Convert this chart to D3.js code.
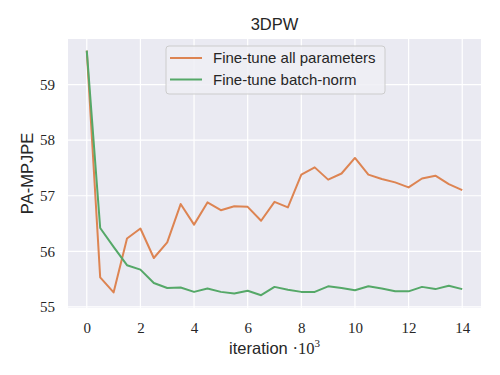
<!DOCTYPE html>
<html>
<head>
<meta charset="utf-8">
<script src="https://cdn.jsdelivr.net/npm/d3@7"></script>
<style>
  body { margin: 0; background: #fff; }
</style>
</head>
<body>
<div id="chart"></div>
<script>
var iterations = [0, 0.5, 1, 1.5, 2, 2.5, 3, 3.5, 4, 4.5, 5, 5.5, 6, 6.5, 7,
                  7.5, 8, 8.5, 9, 9.5, 10, 10.5, 11, 11.5, 12, 12.5, 13, 13.5, 14];
var allParams = [59.61, 55.53, 55.26, 56.23, 56.41, 55.88, 56.16, 56.85, 56.48, 56.88,
                 56.74, 56.81, 56.80, 56.55, 56.89, 56.79, 57.38, 57.51, 57.29, 57.40,
                 57.68, 57.38, 57.30, 57.24, 57.15, 57.31, 57.36, 57.21, 57.10];
var batchNorm = [59.61, 56.42, 56.08, 55.75, 55.67, 55.43, 55.34, 55.35, 55.27, 55.33,
                 55.27, 55.24, 55.29, 55.21, 55.36, 55.31, 55.27, 55.27, 55.37, 55.34,
                 55.30, 55.37, 55.33, 55.28, 55.28, 55.36, 55.32, 55.38, 55.32];
var xTicks = [0, 2, 4, 6, 8, 10, 12, 14];
var yTicks = [55, 56, 57, 58, 59];
var seriesNames = ["Fine-tune all parameters", "Fine-tune batch-norm"];
var colors = ["#dd8452", "#55a868"];

var W = 500, H = 375;
var margin = {top: 39, right: 19, bottom: 67, left: 68};
var width = W - margin.left - margin.right,
    height = H - margin.top - margin.bottom;
var sans = "Liberation Sans, Arial, sans-serif",
    serif = "Liberation Serif, DejaVu Serif, serif";

var svg = d3.select("#chart").append("svg")
    .attr("width", W).attr("height", H);

var g = svg.append("g")
    .attr("transform", "translate(" + margin.left + "," + margin.top + ")");

var x = d3.scaleLinear().domain([-0.7, 14.7]).range([0, width]);
var y = d3.scaleLinear().domain([54.98, 59.82]).range([height, 0]);

g.append("rect").attr("width", width).attr("height", height).attr("fill", "#eaeaf2");

// grid
g.selectAll(".vgrid").data(xTicks).enter().append("line")
    .attr("x1", function(d) { return x(d); }).attr("x2", function(d) { return x(d); })
    .attr("y1", 0).attr("y2", height)
    .attr("stroke", "#fff").attr("stroke-width", 1.2);
g.selectAll(".hgrid").data(yTicks).enter().append("line")
    .attr("y1", function(d) { return y(d); }).attr("y2", function(d) { return y(d); })
    .attr("x1", 0).attr("x2", width)
    .attr("stroke", "#fff").attr("stroke-width", 1.2);

// axes
var xAxis = g.append("g")
    .attr("transform", "translate(0," + height + ")")
    .call(d3.axisBottom(x).tickValues(xTicks).tickFormat(d3.format("d")).tickSize(0).tickPadding(14));
var yAxis = g.append("g")
    .call(d3.axisLeft(y).tickValues(yTicks).tickFormat(d3.format("d")).tickSize(0).tickPadding(13));
[xAxis, yAxis].forEach(function(a) {
    a.attr("font-family", serif).attr("font-size", 15);
    a.select(".domain").remove();
    a.selectAll("text").attr("fill", "#262626");
});

// lines
var line = d3.line()
    .x(function(d) { return x(d[0]); })
    .y(function(d) { return y(d[1]); });

[allParams, batchNorm].forEach(function(vals, i) {
    g.append("path")
        .datum(iterations.map(function(it, j) { return [it, vals[j]]; }))
        .attr("fill", "none")
        .attr("stroke", colors[i])
        .attr("stroke-width", 2)
        .attr("stroke-linejoin", "round")
        .attr("d", line);
});

// legend
var lg = svg.append("g").attr("transform", "translate(166,46)");
lg.append("rect")
    .attr("width", 219).attr("height", 48)
    .attr("rx", 3)
    .attr("fill", "#eeeef4").attr("fill-opacity", 0.85)
    .attr("stroke", "#cccccc").attr("stroke-width", 1);
seriesNames.forEach(function(name, i) {
    var yy = 12 + i * 21.5;
    lg.append("line")
        .attr("x1", 4).attr("x2", 36).attr("y1", yy).attr("y2", yy)
        .attr("stroke", colors[i]).attr("stroke-width", 2);
    lg.append("text")
        .attr("x", 47).attr("y", yy).attr("dy", "0.35em")
        .attr("font-family", sans)
        .attr("font-size", 15).attr("fill", "#262626")
        .text(name);
});

// title and labels
svg.append("text")
    .attr("x", margin.left + width / 2).attr("y", 30)
    .attr("text-anchor", "middle")
    .attr("font-family", sans)
    .attr("font-size", 16.5).attr("fill", "#262626")
    .text("3DPW");

var xl = svg.append("text")
    .attr("x", margin.left + width / 2).attr("y", 354)
    .attr("text-anchor", "middle")
    .attr("font-family", sans)
    .attr("font-size", 16.5).attr("fill", "#262626");
xl.append("tspan").text("iteration ");
xl.append("tspan").attr("font-family", serif).text("\u00b710");
xl.append("tspan").attr("font-family", serif)
    .attr("font-size", 11).attr("dy", -7).text("3");

svg.append("text")
    .attr("transform", "translate(33," + (margin.top + height / 2) + ") rotate(-90)")
    .attr("text-anchor", "middle")
    .attr("font-family", sans)
    .attr("font-size", 16.5).attr("fill", "#262626")
    .text("PA-MPJPE");
</script>
</body>
</html>
